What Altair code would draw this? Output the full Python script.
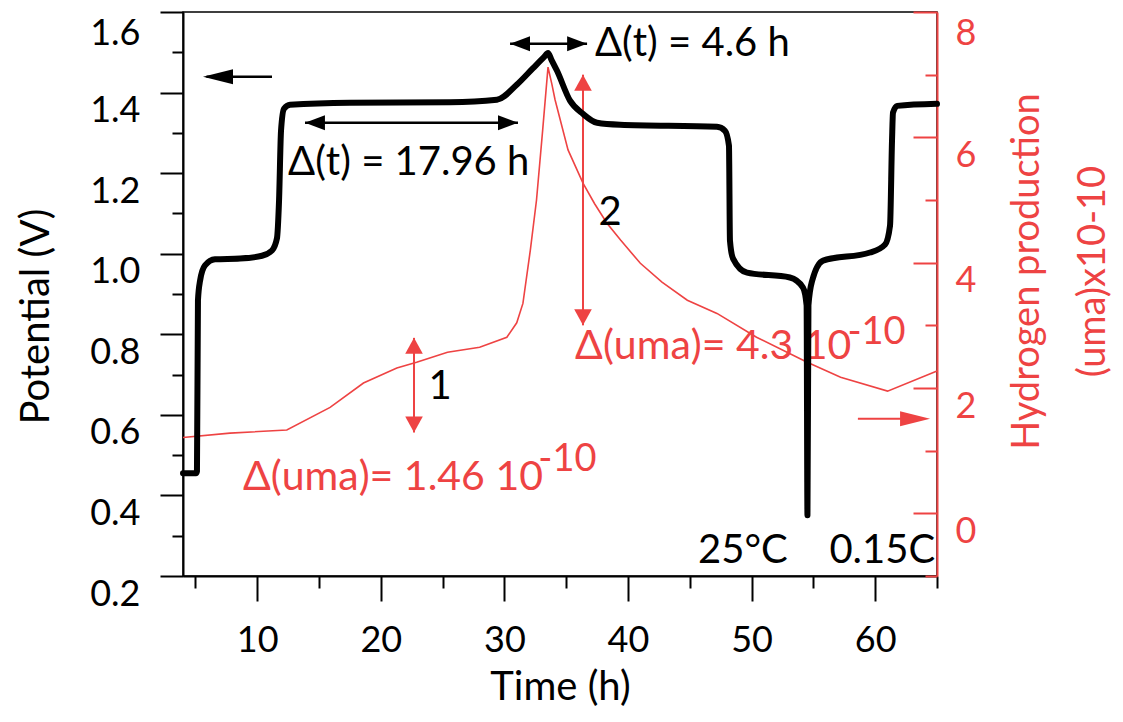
import altair as alt
import pandas as pd

FONT = "Lato"
RED = "#EE4343"
BLACK = "#000000"

# ---------------- data ----------------
black_t = [4.0, 5.05, 5.13, 5.21, 5.38, 5.78, 6.59, 8.61, 10.39, 11.2, 11.6, 11.77, 11.93, 12.17,
           12.66, 17.5, 25.6, 29.4, 31.02, 32.3, 33.2, 33.53, 33.8, 34.26, 35.31, 36.36, 37.5, 39.36,
           47.2, 47.85, 48.17, 48.25, 48.5, 49.63, 53.1, 54.16, 54.45, 54.52, 54.6, 54.9, 55.78,
           59.58, 60.8, 61.2, 61.36, 61.44, 61.77, 65.0]
black_v = [0.455, 0.455, 0.46, 0.884, 0.933, 0.971, 0.986, 0.988, 0.995, 1.008, 1.038, 1.132, 1.305,
           1.36, 1.37, 1.375, 1.376, 1.382, 1.42, 1.46, 1.488, 1.498, 1.482, 1.454, 1.38, 1.347,
           1.325, 1.32, 1.315, 1.305, 1.268, 1.033, 0.988, 0.953, 0.941, 0.916, 0.872, 0.351, 0.872,
           0.933, 0.983, 1.003, 1.023, 1.07, 1.28, 1.35, 1.367, 1.372]

red_t = [4.0, 7.8, 12.4, 15.9, 18.6, 21.3, 22.9, 25.4, 28.0, 30.2, 31.0, 31.5, 32.1, 32.6, 33.1,
         33.53, 33.85, 34.1, 35.15, 36.36, 37.3, 38.3, 39.4, 41.0, 42.75, 44.8, 47.2, 50.4, 54.5,
         57.2, 61.0, 65.0]
red_h = [1.21, 1.28, 1.33, 1.69, 2.08, 2.32, 2.41, 2.57, 2.65, 2.81, 3.04, 3.35, 4.2, 5.0, 6.12,
         7.12, 6.84, 6.6, 5.8, 5.27, 4.94, 4.63, 4.36, 3.99, 3.69, 3.40, 3.19, 2.81, 2.41, 2.17,
         1.95, 2.27]

# black annotation arrows (potential scale)
bs_t1 = [11.2, 13.87, 30.46]
bs_t2 = [5.9, 31.1, 36.69]
bs_v = [1.439, 1.325, 1.521]
bhl_t = [5.62]
bhl_v = [1.439]
bhl_a = [0]
bhs_t = [13.87, 31.1, 30.46, 36.69]
bhs_v = [1.325, 1.325, 1.521, 1.521]
bhs_a = [0, 180, 0, 180]

# black texts
btl_text = ["Δ(t) = 17.96 h", "Δ(t) = 4.6 h", "25°C"]
btl_t = [12.5, 37.33, 45.67]
btl_v = [1.226, 1.521, 0.262]
btr_text = ["0.15C"]
btr_t = [64.85]
btr_v = [0.262]

# red annotation arrows (hydrogen scale)
rv_t = [22.69, 36.36]
rv_top = [2.80, 7.0]
rv_bot = [1.29, 3.0]
rh_t = [22.69, 22.69, 36.36, 36.36]
rh_h = [2.80, 1.29, 7.0, 3.0]
rh_a = [90, 270, 90, 270]
rr_t1 = [58.6]
rr_t2 = [63.0]
rr_h = [1.51]
rrh_t = [64.44]
rrh_h = [1.51]
rrh_a = [180]

# red texts
rt_text = ["Δ(uma)= 1.46 10", "Δ(uma)= 4.3 10"]
rt_t = [8.85, 35.72]
rt_h = [0.57, 2.65]
rsup_text = ["-10", "-10"]
rsup_t = [32.75, 57.75]
rsup_h = [0.85, 2.88]
num_text = ["1", "2"]
num_t = [24.79, 38.55]
num_h = [2.01, 4.79]

x_ticks = [5, 10, 15, 20, 25, 30, 35, 40, 45, 50, 55, 60, 65]
left_ticks = [0.2, 0.3, 0.4, 0.5, 0.6, 0.7, 0.8, 0.9, 1.0, 1.1, 1.2, 1.3, 1.4, 1.5, 1.6]
right_ticks = [-1, 0, 1, 2, 3, 4, 5, 6, 7, 8]

LONG = "M 0 0 L 2 -0.5 L 2 0.5 Z"
SHORT = "M 0 0 L 1.33 -0.5 L 1.33 0.5 Z"
VHEAD = "M 0 0 L 1 -0.55 L 1 0.55 Z"

# ---------------- scales / axes ----------------
xs = alt.Scale(domain=[4, 65], nice=False, zero=False)
x_axis = alt.Axis(
    values=x_ticks,
    labelExpr="datum.value % 10 === 0 ? datum.label : ''",
    tickSize=25, tickWidth=2, tickColor=BLACK,
    tickDash={"condition": {"test": "datum.value % 10 !== 0", "value": [12, 14]}, "value": []},
    domainColor=BLACK, domainWidth=2,
    labelFontSize=36, labelColor=BLACK, labelPadding=22, labelFlush=False, labelOverlap=False,
    title="Time (h)", titleFontSize=40, titleColor=BLACK,
    titleX=377, titleY=111, titleBaseline="middle", titleAlign="center",
)

ls = alt.Scale(domain=[0.2, 1.6], nice=False, zero=False)
l_axis = alt.Axis(
    orient="left", values=left_ticks,
    labelExpr="round(datum.value * 10) % 2 === 0 ? format(datum.value, '.1f') : ''",
    tickSize=23, tickWidth=2, tickColor=BLACK,
    tickDash={"condition": {"test": "round(datum.value * 10) % 2 !== 0", "value": [11, 14]}, "value": []},
    domainColor=BLACK, domainWidth=2,
    labelFontSize=36, labelColor=BLACK, labelPadding=20,
    labelOffset={"condition": {"test": "datum.value > 1.55", "value": 21}, "value": 18},
    labelFlush=False, labelOverlap=False, labelBound=False,
    title="Potential (V)", titleFontSize=40, titleColor=BLACK, titleAngle=270,
    titleX=-147, titleY=304, titleBaseline="middle", titleAlign="center",
)

rs = alt.Scale(domain=[-1, 8], nice=False, zero=False)
r_axis = alt.Axis(
    orient="right", offset=-24, values=right_ticks,
    labelExpr="datum.value >= 0 && datum.value % 2 === 0 ? datum.label : ''",
    tickSize=24, tickWidth=2, tickColor=RED,
    tickDash={"condition": {"test": "datum.value % 2 !== 0", "value": [0, 12, 12]}, "value": []},
    domain=False,
    labelFontSize=36, labelColor=RED, labelPadding=18,
    labelOffset={"condition": {"test": "datum.value > 7.5", "value": 21}, "value": 18},
    labelFlush=False, labelOverlap=False, labelBound=False,
    title="Hydrogen production", titleFontSize=38, titleColor=RED, titleAngle=270,
    titleX=114, titleY=259, titleBaseline="middle", titleAlign="center",
)
r3_axis = alt.Axis(
    orient="right", offset=0, ticks=False, labels=False,
    domain=True, domainColor=RED, domainWidth=2,
    title="(uma)x10-10", titleFontSize=38, titleColor=RED, titleAngle=270,
    titleX=156, titleY=259, titleBaseline="middle", titleAlign="center",
)


def X(f):
    return alt.X(f"{f}:Q", scale=xs, axis=x_axis)


def YL(f):
    return alt.Y(f"{f}:Q", scale=ls, axis=l_axis)


def YR(f):
    return alt.Y(f"{f}:Q", scale=rs, axis=r_axis)


def YR3(f):
    return alt.Y(f"{f}:Q", scale=rs, axis=r3_axis)


# ---------------- black group ----------------
black_df = pd.DataFrame({"t": black_t, "v": black_v, "i": list(range(len(black_t)))})
black_line = alt.Chart(black_df).mark_line(
    color=BLACK, strokeWidth=6, interpolate="monotone", strokeCap="round", strokeJoin="round"
).encode(x=X("t"), y=YL("v"), order="i:Q")

bs_df = pd.DataFrame({"t1": bs_t1, "t2": bs_t2, "v": bs_v})
black_shafts = alt.Chart(bs_df).mark_rule(color=BLACK, strokeWidth=2.5).encode(
    x=X("t1"), x2="t2:Q", y=YL("v"))
bhl_df = pd.DataFrame({"t": bhl_t, "v": bhl_v, "a": bhl_a})
black_heads_long = alt.Chart(bhl_df).mark_point(
    shape=LONG, size=900, filled=True, color=BLACK, opacity=1, strokeWidth=0
).encode(x=X("t"), y=YL("v"), angle=alt.Angle("a:Q", scale=None))
bhs_df = pd.DataFrame({"t": bhs_t, "v": bhs_v, "a": bhs_a})
black_heads_short = alt.Chart(bhs_df).mark_point(
    shape=SHORT, size=900, filled=True, color=BLACK, opacity=1, strokeWidth=0
).encode(x=X("t"), y=YL("v"), angle=alt.Angle("a:Q", scale=None))

btl_df = pd.DataFrame({"t": btl_t, "v": btl_v, "s": btl_text})
black_text_l = alt.Chart(btl_df).mark_text(
    font=FONT, fontSize=40, align="left", baseline="middle", color=BLACK
).encode(x=X("t"), y=YL("v"), text="s:N")
btr_df = pd.DataFrame({"t": btr_t, "v": btr_v, "s": btr_text})
black_text_r = alt.Chart(btr_df).mark_text(
    font=FONT, fontSize=40, align="right", baseline="middle", color=BLACK
).encode(x=X("t"), y=YL("v"), text="s:N")

black_group = alt.layer(black_line, black_shafts, black_heads_long, black_heads_short,
                        black_text_l, black_text_r)

# ---------------- red group ----------------
red_df = pd.DataFrame({"t": red_t, "h": red_h, "i": list(range(len(red_t)))})
red_line = alt.Chart(red_df).mark_line(color=RED, strokeWidth=1.6).encode(
    x=X("t"), y=YR("h"), order="i:Q")

rv_df = pd.DataFrame({"t": rv_t, "top": rv_top, "bot": rv_bot})
red_shafts = alt.Chart(rv_df).mark_rule(color=RED, strokeWidth=2).encode(
    x=X("t"), y=YR("top"), y2="bot:Q")
rh_df = pd.DataFrame({"t": rh_t, "h": rh_h, "a": rh_a})
red_heads = alt.Chart(rh_df).mark_point(
    shape=VHEAD, size=1024, filled=True, color=RED, opacity=1, strokeWidth=0
).encode(x=X("t"), y=YR("h"), angle=alt.Angle("a:Q", scale=None))

rt_df = pd.DataFrame({"t": rt_t, "h": rt_h, "s": rt_text})
red_text = alt.Chart(rt_df).mark_text(
    font=FONT, fontSize=41, align="left", baseline="middle", color=RED
).encode(x=X("t"), y=YR("h"), text="s:N")
rsup_df = pd.DataFrame({"t": rsup_t, "h": rsup_h, "s": rsup_text})
red_sup = alt.Chart(rsup_df).mark_text(
    font=FONT, fontSize=38, align="left", baseline="middle", color=RED
).encode(x=X("t"), y=YR("h"), text="s:N")
num_df = pd.DataFrame({"t": num_t, "h": num_h, "s": num_text})
num_text_layer = alt.Chart(num_df).mark_text(
    font=FONT, fontSize=40, align="center", baseline="middle", color=BLACK
).encode(x=X("t"), y=YR("h"), text="s:N")

red_group = alt.layer(red_line, red_shafts, red_heads, red_text, red_sup, num_text_layer)

# ---------------- third group: right arrow + right frame ----------------
rr_df = pd.DataFrame({"t1": rr_t1, "t2": rr_t2, "h": rr_h})
rr_shaft = alt.Chart(rr_df).mark_rule(color=RED, strokeWidth=2).encode(
    x=X("t1"), x2="t2:Q", y=YR3("h"))
rrh_df = pd.DataFrame({"t": rrh_t, "h": rrh_h, "a": rrh_a})
rr_head = alt.Chart(rrh_df).mark_point(
    shape=LONG, size=900, filled=True, color=RED, opacity=1, strokeWidth=0
).encode(x=X("t"), y=YR3("h"), angle=alt.Angle("a:Q", scale=None))
third_group = alt.layer(rr_shaft, rr_head)

chart = alt.layer(red_group, black_group, third_group).resolve_scale(
    y="independent"
).properties(
    width=754, height=564,
    autosize=alt.AutoSizeParams(type="none"),
    padding={"left": 175, "top": 4, "right": 178, "bottom": 134},
).configure_view(
    stroke=BLACK, strokeWidth=1.5
).configure_axis(
    grid=False, labelFont=FONT, titleFont=FONT, titleFontWeight="normal"
)

chart.save("out.html", embed_options={"renderer": "svg", "actions": False})
